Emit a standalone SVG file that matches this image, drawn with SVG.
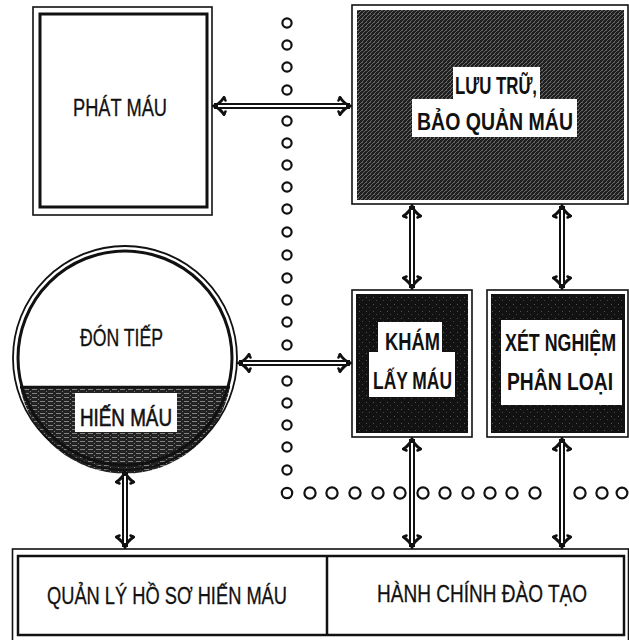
<svg xmlns="http://www.w3.org/2000/svg" width="629" height="640" viewBox="0 0 629 640">
<defs>
<style>
.t{font-family:"Liberation Sans",Arial,sans-serif;font-size:23px;fill:#111;stroke:#111;stroke-width:0.3}
.b{font-weight:bold;stroke-width:0}
.o{fill:none;stroke:#111;stroke-width:1.6}
.i{fill:none;stroke:#111;stroke-width:3}
.dc{fill:#fff;stroke:#111;stroke-width:2.2}
.sh{stroke:#111;stroke-width:6;fill:none}
.in{stroke:#fff;stroke-width:2;fill:none}
</style>
<pattern id="gray" width="4" height="4" patternUnits="userSpaceOnUse">
<rect width="4" height="4" fill="#1f1f1f"/>
<path d="M0,4 L4,0" stroke="#7a7a7a" stroke-width="0.8"/>
<rect x="2" y="2" width="1" height="1" fill="#555"/>
</pattern>
<pattern id="blk" width="7" height="7" patternUnits="userSpaceOnUse">
<rect width="7" height="7" fill="#121212"/>
<rect x="2" y="3" width="1" height="1" fill="#555"/>
<rect x="5" y="6" width="1" height="1" fill="#444"/>
</pattern>
<pattern id="strk" width="8" height="4" patternUnits="userSpaceOnUse">
<rect width="8" height="4" fill="#232323"/>
<path d="M0,1.5 H5" stroke="#8c8c8c" stroke-width="0.9"/>
<rect x="6" y="3" width="1" height="1" fill="#777"/>
</pattern>
<marker id="ah" viewBox="-14 -12 16 24" markerWidth="16" markerHeight="24" refX="0" refY="0" orient="auto-start-reverse" markerUnits="userSpaceOnUse">
<path d="M-10,-8.5 C-6.5,-3.5 -3,-1 0,0 C-3,1 -6.5,3.5 -10,8.5" fill="none" stroke="#111" stroke-width="3" stroke-linecap="round"/>
<path d="M-10,-8.5 L-11.5,-5.5 M-10,8.5 L-11.5,5.5" stroke="#111" stroke-width="2.6" stroke-linecap="round"/>
</marker>
<clipPath id="lower"><rect x="0" y="387" width="260" height="100"/></clipPath>
</defs>

<g id="dots">
<circle class="dc" cx="287" cy="23" r="4.6"/>
<circle class="dc" cx="287" cy="45" r="4.6"/>
<circle class="dc" cx="287" cy="67" r="4.6"/>
<circle class="dc" cx="287" cy="90" r="4.6"/>
<circle class="dc" cx="287" cy="121" r="4.6"/>
<circle class="dc" cx="287" cy="143" r="4.6"/>
<circle class="dc" cx="287" cy="165" r="4.6"/>
<circle class="dc" cx="287" cy="187" r="4.6"/>
<circle class="dc" cx="287" cy="209" r="4.6"/>
<circle class="dc" cx="287" cy="232" r="4.6"/>
<circle class="dc" cx="287" cy="255" r="4.6"/>
<circle class="dc" cx="287" cy="278" r="4.6"/>
<circle class="dc" cx="287" cy="300" r="4.6"/>
<circle class="dc" cx="287" cy="322" r="4.6"/>
<circle class="dc" cx="287" cy="345" r="4.6"/>
<circle class="dc" cx="287" cy="381" r="4.6"/>
<circle class="dc" cx="287" cy="403" r="4.6"/>
<circle class="dc" cx="287" cy="425" r="4.6"/>
<circle class="dc" cx="287" cy="447" r="4.6"/>
<circle class="dc" cx="287" cy="470" r="4.6"/>
<circle class="dc" cx="287" cy="493" r="5.2"/>
<circle class="dc" cx="310" cy="493" r="5.6"/>
<circle class="dc" cx="332" cy="493" r="5.6"/>
<circle class="dc" cx="355" cy="493" r="5.6"/>
<circle class="dc" cx="378" cy="493" r="5.6"/>
<circle class="dc" cx="400" cy="493" r="5.6"/>
<circle class="dc" cx="423" cy="493" r="5.6"/>
<circle class="dc" cx="445" cy="493" r="5.6"/>
<circle class="dc" cx="468" cy="493" r="5.6"/>
<circle class="dc" cx="490" cy="493" r="5.6"/>
<circle class="dc" cx="512" cy="493" r="5.6"/>
<circle class="dc" cx="535" cy="493" r="5.6"/>
<circle class="dc" cx="580" cy="493" r="5.6"/>
<circle class="dc" cx="602" cy="493" r="5.6"/>
<circle class="dc" cx="622" cy="493" r="5.4"/>
</g>

<g id="phat-mau">
<rect class="o" x="33" y="7" width="179" height="208"/>
<rect class="i" x="40" y="14" width="167" height="193"/>
<text class="t" x="73" y="116" textLength="94" lengthAdjust="spacingAndGlyphs">PHÁT MÁU</text>
</g>

<g id="luu-tru">
<rect class="o" x="352" y="5" width="276" height="199"/>
<rect x="357" y="10" width="267" height="190" fill="url(#gray)"/>
<rect x="453" y="67" width="87" height="33" fill="#fff"/>
<rect x="412" y="99" width="165" height="38" fill="#fff"/>
<text class="t b" x="455" y="94" textLength="82" lengthAdjust="spacingAndGlyphs">LƯU TRỮ,</text>
<text class="t b" x="417" y="130" textLength="156" lengthAdjust="spacingAndGlyphs">BẢO QUẢN MÁU</text>
</g>

<g id="don-tiep">
<path d="M20,387 H230 A107,107 0 0 1 20,387 Z" fill="url(#strk)" clip-path="url(#lower)"/>
<circle cx="125" cy="358" r="107" fill="none" stroke="#111" stroke-width="3"/>
<circle cx="125" cy="358" r="112" fill="none" stroke="#111" stroke-width="1.8"/>
<line x1="20" y1="387" x2="230" y2="387" stroke="#111" stroke-width="2.5"/>
<rect x="75" y="393" width="102" height="39" fill="#fff"/>
<text class="t" x="80" y="346" textLength="83" lengthAdjust="spacingAndGlyphs">ĐÓN TIẾP</text>
<text class="t" x="80" y="426" textLength="92" lengthAdjust="spacingAndGlyphs" style="stroke-width:0.6">HIẾN MÁU</text>
</g>

<g id="kham">
<rect class="o" x="352" y="290" width="120" height="147"/>
<rect x="356" y="294" width="112" height="139" fill="url(#blk)"/>
<path d="M378,322 H442 V352 H455 V397 H369 V352 H378 Z" fill="#fff"/>
<text class="t b" x="385" y="350" textLength="55" lengthAdjust="spacingAndGlyphs">KHÁM</text>
<text class="t b" x="373" y="389" textLength="79" lengthAdjust="spacingAndGlyphs">LẤY MÁU</text>
</g>

<g id="xet-nghiem">
<rect class="o" x="487" y="290" width="141" height="147"/>
<rect x="491" y="294" width="134" height="139" fill="url(#blk)"/>
<rect x="501" y="320" width="121" height="85" fill="#fff"/>
<text class="t b" transform="translate(505,351) scale(0.78,1)" x="0" y="0" textLength="142.3" lengthAdjust="spacingAndGlyphs">XÉT NGHIỆM</text>
<text class="t b" transform="translate(507,390) scale(0.84,1)" x="0" y="0" textLength="126.2" lengthAdjust="spacingAndGlyphs">PHÂN LOẠI</text>
</g>

<g id="bottom">
<rect class="o" x="12.5" y="549" width="616" height="100"/>
<rect x="18" y="556" width="606" height="79" fill="none" stroke="#111" stroke-width="2.5"/>
<line x1="327" y1="556" x2="327" y2="635" stroke="#111" stroke-width="2.5"/>
<text class="t" x="47" y="604" textLength="240" lengthAdjust="spacingAndGlyphs">QUẢN LÝ HỒ SƠ HIẾN MÁU</text>
<text class="t" transform="translate(377,602) scale(0.83,1)" x="0" y="0" textLength="253" lengthAdjust="spacingAndGlyphs">HÀNH CHÍNH ĐÀO TẠO</text>
</g>

<g id="connectors">
<line class="sh" x1="214" y1="106" x2="350" y2="106" marker-start="url(#ah)" marker-end="url(#ah)"/>
<line class="in" x1="218" y1="106" x2="346" y2="106"/>
<line class="sh" x1="239" y1="363" x2="350" y2="363" marker-start="url(#ah)" marker-end="url(#ah)"/>
<line class="in" x1="243" y1="363" x2="346" y2="363"/>
<line class="sh" x1="412" y1="206" x2="412" y2="288" marker-start="url(#ah)" marker-end="url(#ah)"/>
<line class="in" x1="412" y1="210" x2="412" y2="284"/>
<line class="sh" x1="562" y1="206" x2="562" y2="288" marker-start="url(#ah)" marker-end="url(#ah)"/>
<line class="in" x1="562" y1="210" x2="562" y2="284"/>
<line class="sh" x1="412" y1="439" x2="412" y2="547" marker-start="url(#ah)" marker-end="url(#ah)"/>
<line class="in" x1="412" y1="443" x2="412" y2="543"/>
<line class="sh" x1="562" y1="439" x2="562" y2="547" marker-start="url(#ah)" marker-end="url(#ah)"/>
<line class="in" x1="562" y1="443" x2="562" y2="543"/>
<line class="sh" x1="125" y1="472" x2="125" y2="547" marker-start="url(#ah)" marker-end="url(#ah)"/>
<line class="in" x1="125" y1="476" x2="125" y2="543"/>
</g>
</svg>
